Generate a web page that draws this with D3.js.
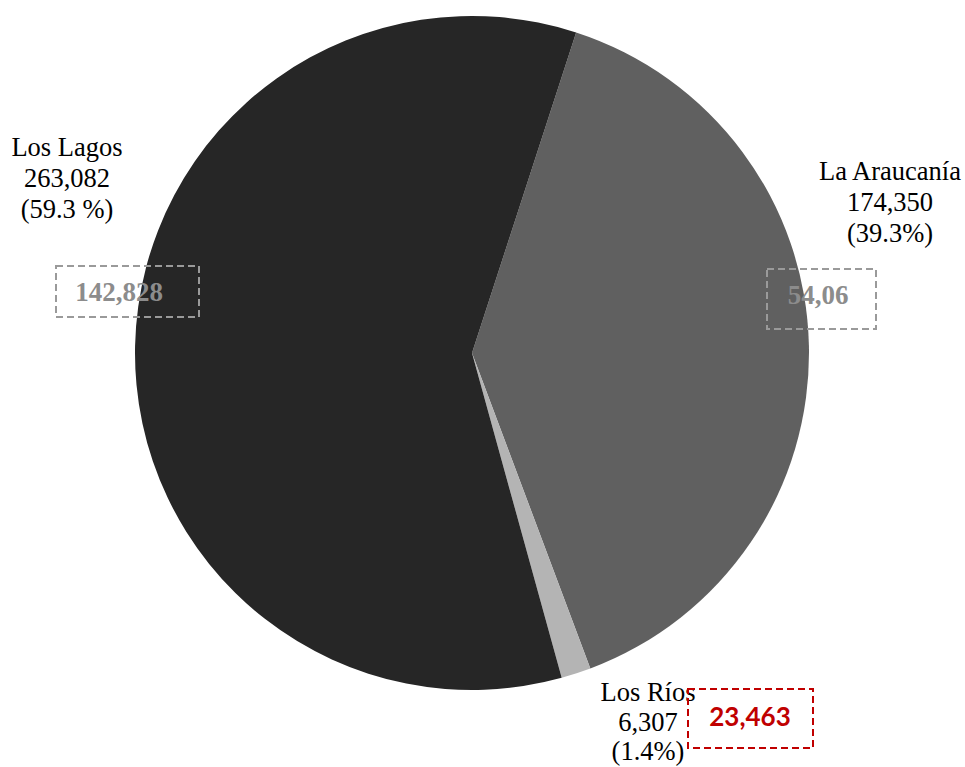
<!DOCTYPE html>
<html>
<head>
<meta charset="utf-8">
<script src="https://cdn.jsdelivr.net/npm/d3@7"></script>
<style>
  html, body { margin: 0; padding: 0; background: #ffffff; }
  svg { display: block; }
</style>
</head>
<body>
<svg id="chart" width="965" height="767"></svg>
<script>
// Regions and their totals
const regions = ["La Araucanía", "Los Ríos", "Los Lagos"];
const totals = [174350, 6307, 263082];
const shareLabels = ["(39.3%)", "(1.4%)", "(59.3 %)"];
const valueLabels = ["174,350", "6,307", "263,082"];
const sliceColors = ["#606060", "#b4b4b4", "#262626"];

// Boxed side figures
const boxTexts = ["54,06", "23,463", "142,828"];

const svg = d3.select("#chart");
const cx = 472, cy = 353, radius = 337;

const pie = d3.pie()
  .sort(null)
  .value(d => d)
  .startAngle(18 * Math.PI / 180)
  .endAngle(18 * Math.PI / 180 + 2 * Math.PI);

const arc = d3.arc().innerRadius(0).outerRadius(radius);

const g = svg.append("g").attr("transform", `translate(${cx},${cy})`);
g.selectAll("path")
  .data(pie(totals))
  .join("path")
  .attr("d", arc)
  .attr("fill", (d, i) => sliceColors[i]);

// Category labels (name, value, share) in serif type
const labelPos = [
  { x: 890, y: 180, step: 31 },
  { x: 648, y: 701, step: 29.5 },
  { x: 67, y: 156, step: 31 }
];
const serif = "'Liberation Serif', 'Times New Roman', serif";
regions.forEach((name, i) => {
  const t = svg.append("text")
    .attr("x", labelPos[i].x)
    .attr("y", labelPos[i].y)
    .attr("text-anchor", "middle")
    .attr("font-family", serif)
    .attr("font-size", 26.5)
    .attr("fill", "#000");
  [name, valueLabels[i], shareLabels[i]].forEach((line, k) => {
    t.append("tspan")
      .attr("x", labelPos[i].x)
      .attr("dy", k === 0 ? 0 : labelPos[i].step)
      .text(line);
  });
});

// Dashed callout boxes
const boxes = [
  { x: 767, y: 269, w: 109, h: 60, tx: 818, ty: 304, color: "#8c8c8c", stroke: "#9a9a9a",
    font: serif, size: 27, weight: "bold" },
  { x: 688, y: 689, w: 125, h: 59, tx: 750, ty: 726, color: "#c00000", stroke: "#c00000",
    font: "Lato, 'Open Sans', sans-serif", size: 26, weight: "bold" },
  { x: 56, y: 266, w: 143, h: 51, tx: 119, ty: 301, color: "#8c8c8c", stroke: "#9a9a9a",
    font: serif, size: 27, weight: "bold" }
];
boxes.forEach((b, i) => {
  svg.append("rect")
    .attr("x", b.x).attr("y", b.y)
    .attr("width", b.w).attr("height", b.h)
    .attr("fill", "none")
    .attr("stroke", b.stroke)
    .attr("stroke-width", 2)
    .attr("stroke-dasharray", "7,4");
  svg.append("text")
    .attr("x", b.tx).attr("y", b.ty)
    .attr("text-anchor", "middle")
    .attr("font-family", b.font)
    .attr("font-size", b.size)
    .attr("font-weight", b.weight)
    .attr("fill", b.color)
    .text(boxTexts[i]);
});
</script>
</body>
</html>
